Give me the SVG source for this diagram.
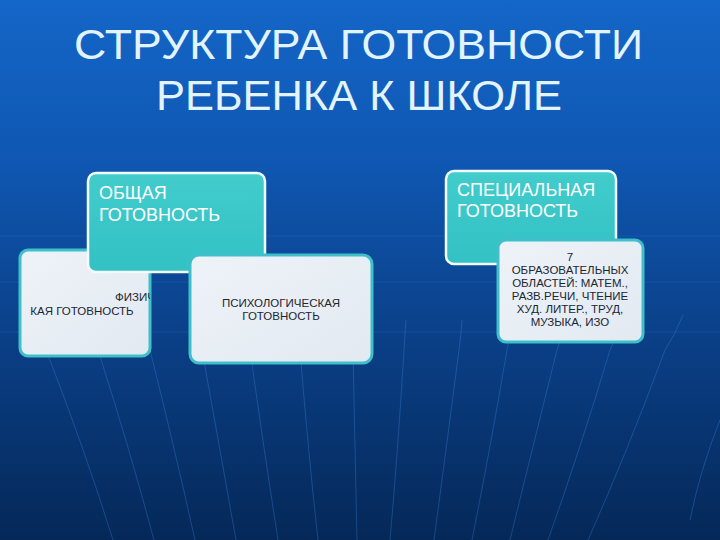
<svg xmlns="http://www.w3.org/2000/svg" width="720" height="540" viewBox="0 0 720 540">
<defs>
<linearGradient id="bg" x1="0" y1="0" x2="0" y2="1">
<stop offset="0" stop-color="#1466c8"/>
<stop offset="0.3" stop-color="#0f57b2"/>
<stop offset="0.65" stop-color="#0a3e84"/>
<stop offset="1" stop-color="#052858"/>
</linearGradient>
<linearGradient id="teal" x1="0" y1="0" x2="0" y2="1">
<stop offset="0" stop-color="#42cccc"/>
<stop offset="1" stop-color="#33c1c4"/>
</linearGradient>
<linearGradient id="light" x1="0" y1="0" x2="1" y2="1">
<stop offset="0" stop-color="#eef3f8"/>
<stop offset="1" stop-color="#e2e9f1"/>
</linearGradient>
<clipPath id="clipPhys"><rect x="20" y="250" width="130" height="106" rx="8"/></clipPath>
</defs>
<style>
.title{font-family:"Liberation Sans",Arial,sans-serif;font-size:43px;fill:#e2f4ff}
.tealbox{fill:url(#teal);stroke:#f4fbff;stroke-width:2.5}
.lightbox{fill:url(#light);stroke:#3fbfca;stroke-width:3}
.wt{font-family:"Liberation Sans",Arial,sans-serif;font-size:18px;fill:#ffffff}
.dt{font-family:"Liberation Sans",Arial,sans-serif;font-size:11.5px;fill:#1b2633}
.mer{fill:none;stroke:#3d86dc;stroke-width:1;opacity:0.35}
.hor{fill:none;stroke:#3d86dc;stroke-width:1;opacity:0.18}
</style>
<rect width="720" height="540" fill="url(#bg)"/>
<g id="background-lines">
<path class="hor" d="M0 236 H720"/>
<path class="hor" d="M0 282 H720"/>
<path class="hor" d="M0 332 H720"/>
<path class="mer" d="M20 300 Q30 325 46 350 Q85 450 113 540"/>
<path class="mer" d="M80 310 Q88 330 98 350 Q130 450 154 540"/>
<path class="mer" d="M140 310 Q145 330 150 350 Q175 450 195 540"/>
<path class="mer" d="M198 320 Q200 335 202 350 Q220 450 236 540"/>
<path class="mer" d="M250 350 Q264 450 278 540"/>
<path class="mer" d="M300 350 Q308 450 318 540"/>
<path class="mer" d="M353 350 Q355 450 357 540"/>
<path class="mer" d="M406 320 Q405 335 404 350 Q398 450 390 540"/>
<path class="mer" d="M462 320 Q461 335 459 350 Q446 450 434 540"/>
<path class="mer" d="M513 320 Q510 335 507 350 Q490 450 472 540"/>
<path class="mer" d="M567 320 Q562 335 557 350 Q532 450 510 540"/>
<path class="mer" d="M624 320 Q617 335 610 350 Q580 450 548 540"/>
<path class="mer" d="M683 315 Q675 335 665 350 Q628 450 588 540"/>
<path class="mer" d="M720 420 Q700 470 690 520"/>
</g>
<g id="title">
<text class="title" x="74" y="59" textLength="569" lengthAdjust="spacingAndGlyphs">СТРУКТУРА ГОТОВНОСТИ</text>
<text class="title" x="156" y="110" textLength="406" lengthAdjust="spacingAndGlyphs">РЕБЕНКА К ШКОЛЕ</text>
</g>
<g id="connectors"></g>
<g id="node-phys">
<rect class="lightbox" x="20" y="250" width="130" height="106" rx="8"/>
<g clip-path="url(#clipPhys)">
<text class="dt" x="115" y="301">ФИЗИЧ</text>
</g>
<text class="dt" x="82" y="315" text-anchor="middle">КАЯ ГОТОВНОСТЬ</text>
</g>
<g id="node-general">
<rect class="tealbox" x="88" y="173" width="177" height="99" rx="8"/>
<text class="wt" x="99" y="199">ОБЩАЯ</text>
<text class="wt" x="99" y="221">ГОТОВНОСТЬ</text>
</g>
<g id="node-psych">
<rect class="lightbox" x="190" y="255" width="182" height="108" rx="9"/>
<text class="dt" x="281" y="307" text-anchor="middle">ПСИХОЛОГИЧЕСКАЯ</text>
<text class="dt" x="281" y="320" text-anchor="middle">ГОТОВНОСТЬ</text>
</g>
<g id="node-special">
<rect class="tealbox" x="446" y="171" width="170" height="93" rx="8"/>
<text class="wt" x="457" y="196">СПЕЦИАЛЬНАЯ</text>
<text class="wt" x="457" y="217">ГОТОВНОСТЬ</text>
</g>
<g id="node-areas">
<rect class="lightbox" x="498" y="240" width="145" height="102" rx="8"/>
<text class="dt" x="570" y="261" text-anchor="middle">7</text>
<text class="dt" x="570" y="274" text-anchor="middle">ОБРАЗОВАТЕЛЬНЫХ</text>
<text class="dt" x="570" y="287" text-anchor="middle">ОБЛАСТЕЙ: МАТЕМ.,</text>
<text class="dt" x="570" y="300" text-anchor="middle">РАЗВ.РЕЧИ, ЧТЕНИЕ</text>
<text class="dt" x="570" y="313" text-anchor="middle">ХУД. ЛИТЕР., ТРУД,</text>
<text class="dt" x="570" y="326" text-anchor="middle">МУЗЫКА, ИЗО</text>
</g>
</svg>
